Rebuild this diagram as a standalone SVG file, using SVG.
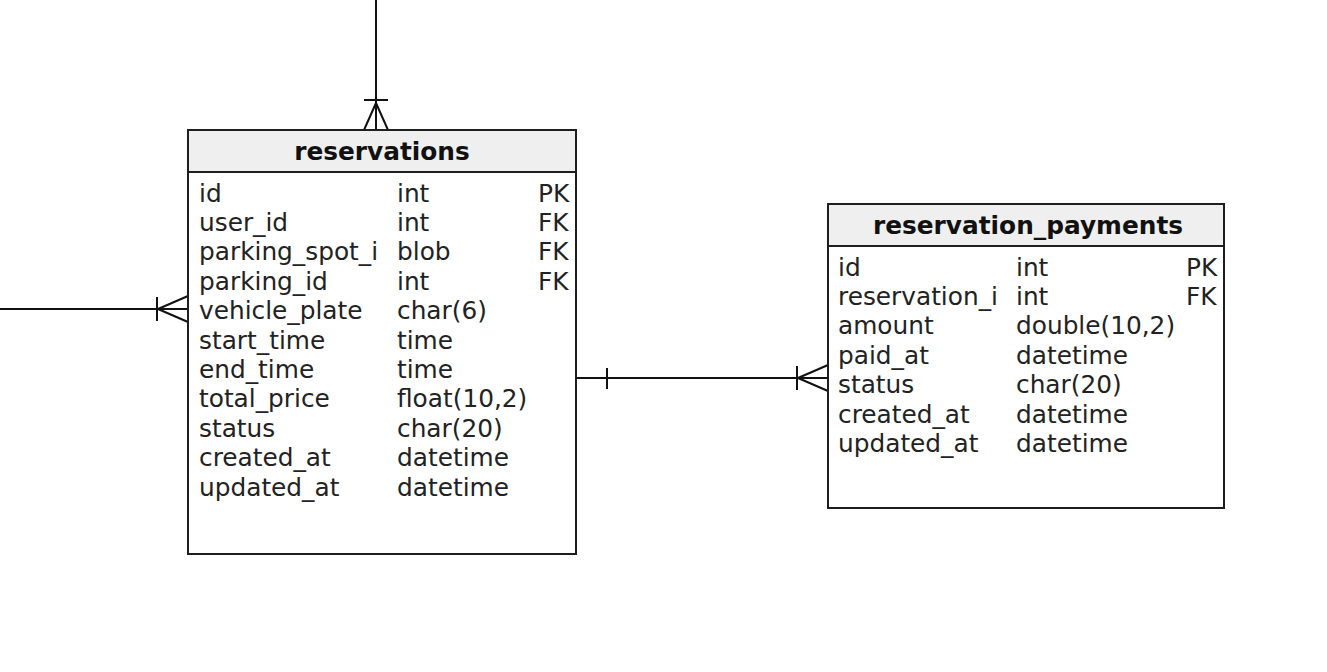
<svg xmlns="http://www.w3.org/2000/svg" width="1327" height="672" viewBox="0 0 1327 672">
<style>
.box{fill:#fff;stroke:#1e1e1e;stroke-width:2}
.hdr{fill:#efefef;stroke:#1e1e1e;stroke-width:2}
.t{font-family:"DejaVu Sans",sans-serif;font-size:24.8px;fill:#222}
.h{font-family:"DejaVu Sans",sans-serif;font-size:24.8px;font-weight:bold;fill:#111;text-anchor:middle}
.ln{fill:none;stroke:#111;stroke-width:2}
</style>
<rect width="1327" height="672" fill="#fff"/>
<g id="connectors">
  <path class="ln" d="M376,0 V130 M364,100 H388 M376,103 L364,130 M376,103 L388,130"/>
  <path class="ln" d="M0,309 H188 M157,297 V321 M158,309 L188,296 M158,309 L188,322"/>
  <path class="ln" d="M576,378 H828 M607,368 V389 M797,366 V390 M798,378 L828,365 M798,378 L828,391"/>
</g>
<g id="reservations">
  <rect class="box" x="188" y="130" width="388" height="424"/>
  <rect class="hdr" x="188" y="130" width="388" height="42"/>
  <text class="h" x="382" y="160">reservations</text>
  <g class="t">
    <text x="199" y="201.5">id</text><text x="397" y="201.5">int</text><text x="538" y="201.5">PK</text>
    <text x="199" y="230.9">user_id</text><text x="397" y="230.9">int</text><text x="538" y="230.9">FK</text>
    <text x="199" y="260.3">parking_spot_i</text><text x="397" y="260.3">blob</text><text x="538" y="260.3">FK</text>
    <text x="199" y="289.7">parking_id</text><text x="397" y="289.7">int</text><text x="538" y="289.7">FK</text>
    <text x="199" y="319.1">vehicle_plate</text><text x="397" y="319.1">char(6)</text>
    <text x="199" y="348.5">start_time</text><text x="397" y="348.5">time</text>
    <text x="199" y="377.9">end_time</text><text x="397" y="377.9">time</text>
    <text x="199" y="407.3">total_price</text><text x="397" y="407.3">float(10,2)</text>
    <text x="199" y="436.7">status</text><text x="397" y="436.7">char(20)</text>
    <text x="199" y="466.1">created_at</text><text x="397" y="466.1">datetime</text>
    <text x="199" y="495.5">updated_at</text><text x="397" y="495.5">datetime</text>
  </g>
</g>
<g id="reservation_payments">
  <rect class="box" x="828" y="204" width="396" height="304"/>
  <rect class="hdr" x="828" y="204" width="396" height="42"/>
  <text class="h" x="1028" y="234">reservation_payments</text>
  <g class="t">
    <text x="838" y="275.5">id</text><text x="1016" y="275.5">int</text><text x="1186" y="275.5">PK</text>
    <text x="838" y="304.9">reservation_i</text><text x="1016" y="304.9">int</text><text x="1186" y="304.9">FK</text>
    <text x="838" y="334.3">amount</text><text x="1016" y="334.3">double(10,2)</text>
    <text x="838" y="363.7">paid_at</text><text x="1016" y="363.7">datetime</text>
    <text x="838" y="393.1">status</text><text x="1016" y="393.1">char(20)</text>
    <text x="838" y="422.5">created_at</text><text x="1016" y="422.5">datetime</text>
    <text x="838" y="451.9">updated_at</text><text x="1016" y="451.9">datetime</text>
  </g>
</g>
</svg>
